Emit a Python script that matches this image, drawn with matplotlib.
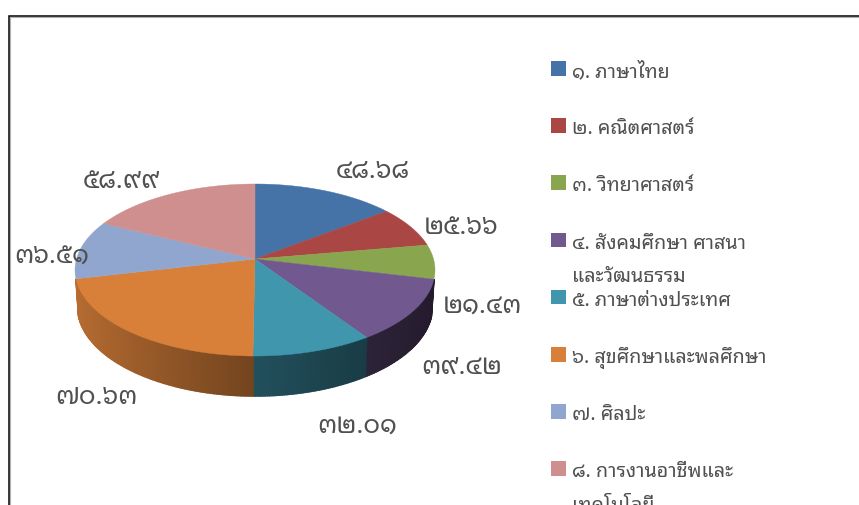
import numpy as np
import matplotlib
matplotlib.use('Agg')
import matplotlib.pyplot as plt
from matplotlib.patches import Rectangle, Polygon

categories = ["๑. ภาษาไทย", "๒. คณิตศาสตร์", "๓. วิทยาศาสตร์",
              "๔. สังคมศึกษา ศาสนา\nและวัฒนธรรม", "๕. ภาษาต่างประเทศ",
              "๖. สุขศึกษาและพลศึกษา", "๗. ศิลปะ", "๘. การงานอาชีพและ\nเทคโนโลยี"]
values = [48.68, 25.66, 21.43, 39.42, 32.01, 70.63, 36.51, 58.99]
value_labels = ["๔๘.๖๘", "๒๕.๖๖", "๒๑.๔๓", "๓๙.๔๒", "๓๒.๐๑", "๗๐.๖๓", "๓๖.๕๑", "๕๘.๙๙"]

colors = ['#4572A7', '#AA4643', '#89A54E', '#71588F', '#3F96AD', '#D8803A', '#91A6CE', '#CE8F8E']
label_xy = [(373, 171), (461, 227), (482, 306), (462, 367), (357, 426), (96, 398), (52, 257), (121, 181)]

FONT = ['Noto Sans Thai Looped', 'Noto Sans Thai', 'DejaVu Sans']
TEXT = '#505050'

fig = plt.figure(figsize=(8.59, 5.06), dpi=100)
ax = fig.add_axes([0, 0, 1, 1])
ax.set_xlim(0, 859)
ax.set_ylim(506, 0)
ax.axis('off')

# frame
ax.plot([9.5, 9.5, 859], [506, 17.5, 17.5], color='#b0b0b0', lw=0.8, solid_joinstyle='miter')
ax.plot([8.5, 8.5, 859], [506, 16.5, 16.5], color='black', lw=1.1, solid_joinstyle='miter')

# perspective projection of the pie disc
CX, K = 255.0, 0.128
def project(theta, y0, a, b):
    u, v = np.sin(theta), np.cos(theta)
    d = 1 + K * v
    return CX + a * u / d, y0 - b * v / d

TOP = (260.0, 178.5, 84.6)
BOT = (296.0, 176.0, 88.0)

edges = np.cumsum([0] + values) / sum(values) * 2 * np.pi

def shade(u):
    return np.interp(u, [-1, 0, 0.6, 1], [0.85, 0.53, 0.39, 0.30])

# side wall with horizontal gradient
for i, c in enumerate(colors):
    n = max(int((edges[i + 1] - edges[i]) / 0.012), 2)
    ts = np.linspace(edges[i], edges[i + 1], n + 1)
    base = np.array(matplotlib.colors.to_rgb(c))
    for t0, t1 in zip(ts[:-1], ts[1:]):
        if np.cos((t0 + t1) / 2) > -0.228:
            continue
        x0, y0 = project(t0, *TOP)
        x1, y1 = project(t1, *TOP)
        x2, y2 = project(t1, *BOT)
        x3, y3 = project(t0, *BOT)
        col = base * shade(np.sin((t0 + t1) / 2))
        ax.add_patch(Polygon([(x0, y0), (x1, y1), (x2, y2), (x3, y3)], closed=True,
                             facecolor=col, edgecolor=col, lw=1.2, zorder=2))

# top face
for i, c in enumerate(colors):
    ts = np.linspace(edges[i], edges[i + 1], 120)
    xs, ys = project(ts, *TOP)
    pts = np.column_stack([np.r_[CX, xs], np.r_[TOP[0], ys]])
    ax.add_patch(Polygon(pts, closed=True, facecolor=c, edgecolor=c, lw=0.3, zorder=3))

# data labels
for s, (x, y) in zip(value_labels, label_xy):
    ax.text(x, y, s, family=FONT, fontsize=18.5, color=TEXT, ha='center', va='center', zorder=5)

# legend
for i, (s, c) in enumerate(zip(categories, colors)):
    yc = 69 + i * 57.2
    ax.add_patch(Rectangle((551, yc - 7), 14.5, 14.5, facecolor=c, edgecolor='none', zorder=4))
    for j, line in enumerate(s.split('\n')):
        ax.text(572, yc + 3 + j * 33.5, line, family=FONT, fontsize=14.2, color=TEXT,
                ha='left', va='center', zorder=5)

fig.savefig('out.png', dpi=100, facecolor='white')
